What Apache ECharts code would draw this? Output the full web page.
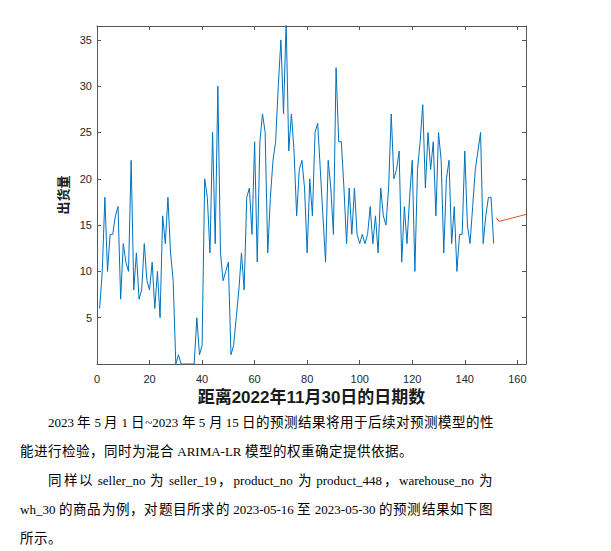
<!DOCTYPE html>
<html lang="zh-CN"><head><meta charset="utf-8">
<script src="https://cdn.jsdelivr.net/npm/echarts@6/dist/echarts.min.js"></script>
<style>
@font-face{font-family:"CJKA";src:local("Noto Sans CJK SC"),local("Noto Sans CJK SC Regular"),local("NotoSansCJKsc-Regular");size-adjust:104%;}
html,body{margin:0;padding:0;background:#fff;width:611px;height:551px;overflow:hidden;}
#chart{position:absolute;left:0;top:0;width:611px;height:551px;}
.ln{position:absolute;z-index:2;left:20px;width:473px;font-family:"Liberation Serif","CJKA","Noto Sans CJK SC",serif;font-size:13px;line-height:29px;height:29px;color:#000;white-space:nowrap;}
.j{display:flex;justify-content:space-between;}
.j span{white-space:pre;}
.ind{left:48px;width:445px;}
</style></head>
<body>
<div id="chart"></div>
<div class="ln ind j" style="top:408px">2023 年 5 月 1 日~2023 年 5 月 15 日的预测结果将用于后续对预测模型的性</div>
<div class="ln" style="top:437px">能进行检验，同时为混合 ARIMA-LR 模型的权重确定提供依据。</div>
<div class="ln ind j" style="top:466px">同样以 seller_no 为 seller_19，product_no 为 product_448，warehouse_no 为</div>
<div class="ln j" style="top:495px">wh_30 的商品为例，对题目所求的 2023-05-16 至 2023-05-30 的预测结果如下图</div>
<div class="ln" style="top:524px">所示。</div>
<script>
// split justified lines into tokens so they spread over the full line width
document.querySelectorAll('.j').forEach(function(el){
  var toks = el.textContent.match(/\s*[^\s\u3000-\u9fff\uff00-\uffef]+\s*|[\u3000-\u9fff\uff00-\uffef]/g) || [];
  el.textContent = '';
  toks.forEach(function(t){ var s=document.createElement('span'); s.textContent=t; el.appendChild(s); });
});

// history: daily shipments, day 1 .. 151 (days after 2022-11-30)
var histValues = [6,10,18,10,14,14,16,17,7,13,11,10,22,8,12,7,8,13,9,8,
  11,6,10,5,16,13,18,12,9,0,1,0,0,0,0,0,0,5,1,2,
  20,18,12,25,13,30,12,9,10,11,1,2,5,8,12,8,18,19,14,24,
  11,24,27,25,12,18,22,24,30,35,27,37,23,27,23,16,21,22,19,12,
  20,16,25,26,21,16,11,22,19,14,32,24,24,19,13,19,14,19,14,13,
  14,13,14,17,13,16,12,19,16,15,19,27,20,21,23,11,17,13,18,22,
  10,21,24,28,19,25,21,24,16,25,22,12,20,22,13,17,10,14,14,23,
  15,13,17,21,23,25,13,16,18,18,13];
var histStartDay = 1;
// forecast (red) vertices
var predDays = [152, 153, 164];
var predValues = [15.8, 15.4, 16.2];
var xTitle = '距离2022年11月30日的日期数';
var yTitle = '出货量';

var histData = histValues.map(function(v,i){return [histStartDay+i, v];});
var predData = predDays.map(function(d,i){return [d, predValues[i]];});

var axCol = '#262626';
var lineSty = {show:true, onZero:false, lineStyle:{color:'#555555', width:1}};
var tickSty = {show:true, inside:true, length:4, lineStyle:{color:'#555555', width:1}};
var lblSty = {color:axCol, fontSize:11, fontFamily:'Liberation Sans, Arial, sans-serif'};
var titleSty = {color:'#1a1a1a', fontSize:17, fontWeight:'bold', fontFamily:'Liberation Sans, "Noto Sans CJK SC", sans-serif'};

var chart = echarts.init(document.getElementById('chart'), null, {renderer:'svg'});
chart.setOption({
  animation:false,
  grid:{left:97, top:26, width:429, height:338, containLabel:false, outerBoundsMode:'none'},
  xAxis:[
    {type:'value', min:0, max:163.3, interval:20, position:'bottom', z:5,
     axisLine:lineSty, axisTick:tickSty, splitLine:{show:false},
     axisLabel:Object.assign({margin:9, showMaxLabel:false}, lblSty),
     name:xTitle, nameLocation:'middle', nameGap:25, nameTextStyle:titleSty},
    {type:'value', min:0, max:163.3, interval:20, position:'top', z:5,
     axisLine:lineSty, axisTick:tickSty, splitLine:{show:false}, axisLabel:{show:false}}
  ],
  yAxis:[
    {type:'value', min:0, max:36.5, interval:5, position:'left', z:5,
     axisLine:lineSty, axisTick:tickSty, splitLine:{show:false},
     axisLabel:Object.assign({margin:5, showMaxLabel:false, showMinLabel:false}, lblSty),
     name:yTitle, nameLocation:'middle', nameGap:28, nameRotate:90,
     nameTextStyle:{color:'#1a1a1a', fontSize:13, fontWeight:'bold', fontFamily:'"Noto Sans CJK SC", sans-serif'}},
    {type:'value', min:0, max:36.5, interval:5, position:'right', z:5,
     axisLine:lineSty, axisTick:tickSty, splitLine:{show:false}, axisLabel:{show:false}}
  ],
  series:[
    {type:'line', xAxisIndex:0, yAxisIndex:0, data:histData, symbol:'none', clip:true,
     lineStyle:{color:'#0072BD', width:1}, z:2},
    {type:'line', xAxisIndex:0, yAxisIndex:0, data:predData, symbol:'none', clip:true,
     lineStyle:{color:'#D95319', width:1}, z:2}
  ]
});
</script>
</body></html>
